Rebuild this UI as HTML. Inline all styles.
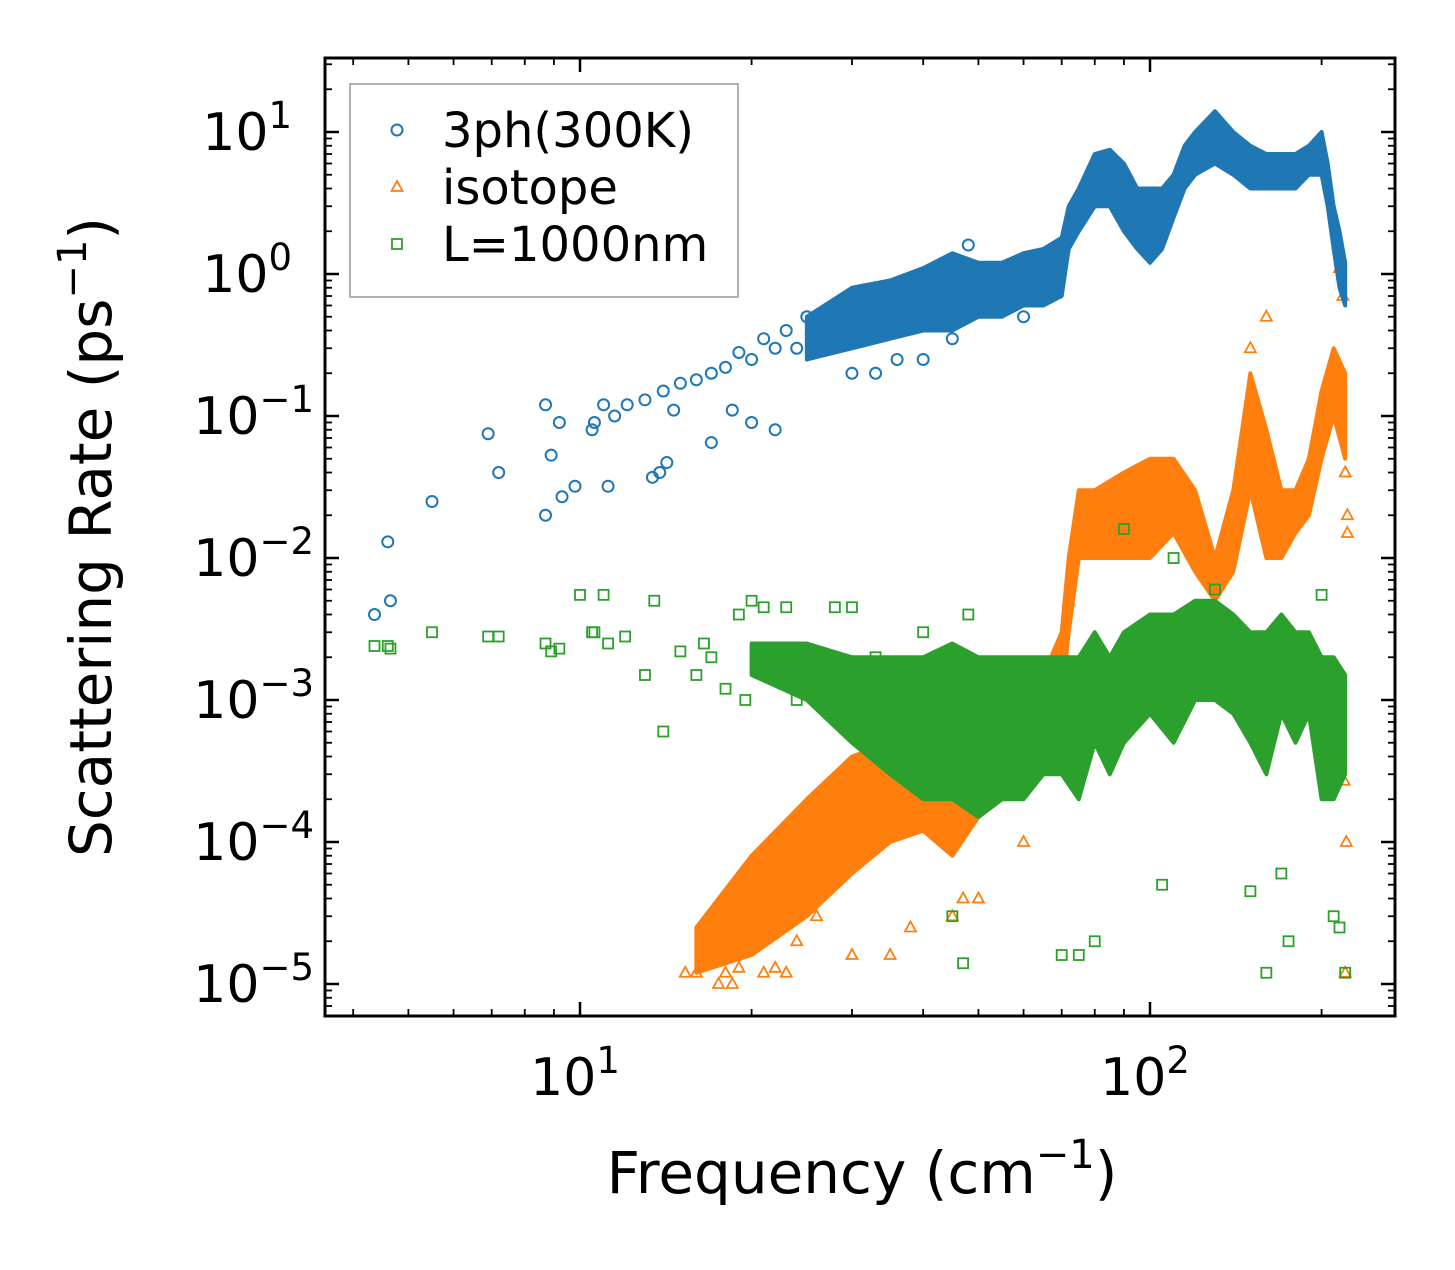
<!DOCTYPE html>
<html><head><meta charset="utf-8"><style>
body{margin:0;background:#fff}
svg text{font-family:"DejaVu Sans","Liberation Sans",sans-serif;fill:#000}
</style></head><body>
<svg id="chart" width="1455" height="1265" xmlns="http://www.w3.org/2000/svg">
<rect width="1455" height="1265" fill="#fff"/>
<g id="bands"></g><g id="marks"></g><g id="axes"></g>
</svg>
<script>
// ---- data ----
const xTickVals=[10,100];
const yTickExps=[1,0,-1,-2,-3,-4,-5];
const blueFreq=[4.36,4.6,4.65,5.5,6.9,7.2,8.7,8.7,8.9,9.2,9.3,9.8,10.5,10.6,11,11.2,11.5,12.1,13,13.4,13.8,14.2,14,14.6,15,16,17,17,18,18.5,19,20,20,21,22,22,23,24,25,26,27,28,30,30,33,36,40,45,48,55,60];
const blueRate=[0.004,0.013,0.005,0.025,0.075,0.04,0.12,0.02,0.053,0.09,0.027,0.032,0.08,0.09,0.12,0.032,0.1,0.12,0.13,0.037,0.04,0.047,0.15,0.11,0.17,0.18,0.065,0.2,0.22,0.11,0.28,0.25,0.09,0.35,0.3,0.08,0.4,0.3,0.5,0.35,0.5,0.6,0.55,0.2,0.2,0.25,0.25,0.35,1.6,0.6,0.5];
const blueBandF=[25,30,35,40,45,50,55,60,65,70,72,75,80,85,90,95,100,105,110,115,120,130,140,150,160,170,180,190,200,205,210,215,220];
const blueLo=[0.25,0.3,0.35,0.4,0.4,0.5,0.5,0.6,0.6,0.7,1.5,2,3,3,2,1.5,1.2,1.5,2.5,4,5,6,5,4,4,4,4,5,5,3,1.5,0.8,0.6];
const blueHi=[0.5,0.8,0.9,1.1,1.4,1.2,1.2,1.4,1.5,1.8,3,4,7,7.5,6,4,4,4,5,8,10,14,10,8,7,7,7,8,10,6,3,2,1.2];
const orFreq=[15.3,16,16.5,17.5,18,18.5,19,20,21,22,23,24,26,30,35,38,45,47,50,60,70,72,150,160,200,215,218,220,222,222,221,219,220];
const orRate=[1.2e-5,1.2e-5,1.6e-5,1e-5,1.2e-5,1e-5,1.3e-5,2e-5,1.2e-5,1.3e-5,1.2e-5,2e-5,3e-5,1.6e-5,1.6e-5,2.5e-5,3e-5,4e-5,4e-5,1e-4,1e-3,5e-3,3e-1,5e-1,1e-1,1.1,0.7,4e-2,2e-2,1.5e-2,1e-4,2.7e-4,1.2e-5];
const orBandF=[16,20,25,30,35,40,45,50,55,60,65,70,72,75,80,90,100,110,120,130,140,150,160,170,180,190,200,210,220];
const orLo=[1.2e-5,1.6e-5,3e-5,6e-5,1e-4,1.2e-4,8e-5,1.5e-4,2e-4,3e-4,5e-4,1e-3,3e-3,1e-2,1e-2,1e-2,1e-2,1.5e-2,8e-3,5e-3,8e-3,3e-2,1e-2,1e-2,1.5e-2,2e-2,5e-2,1e-1,5e-2];
const orHi=[2.5e-5,8e-5,2e-4,4e-4,5e-4,6e-4,1e-3,2e-3,1e-3,1.5e-3,1.5e-3,3e-3,1e-2,3e-2,3e-2,4e-2,5e-2,5e-2,3e-2,1e-2,3e-2,2e-1,8e-2,3e-2,3e-2,5e-2,1.5e-1,3e-1,2e-1];
const grFreq=[4.36,4.65,4.6,5.5,6.9,7.2,8.7,8.9,9.2,10,10.5,10.6,11,11.2,12,13,13.5,14,15,16,16.5,17,18,19,19.5,20,21,22,23,24,25,27,28,30,33,36,40,45,47,48,60,70,75,80,90,105,110,120,130,150,160,170,175,200,210,215,220];
const grRate=[2.4e-3,2.3e-3,2.4e-3,3e-3,2.8e-3,2.8e-3,2.5e-3,2.2e-3,2.3e-3,5.5e-3,3e-3,3e-3,5.5e-3,2.5e-3,2.8e-3,1.5e-3,5e-3,6e-4,2.2e-3,1.5e-3,2.5e-3,2e-3,1.2e-3,4e-3,1e-3,5e-3,4.5e-3,1.5e-3,4.5e-3,1e-3,1.5e-3,1.8e-3,4.5e-3,4.5e-3,2e-3,4e-4,3e-3,3e-5,1.4e-5,4e-3,3e-4,1.6e-5,1.6e-5,2e-5,1.6e-2,5e-5,1e-2,4e-3,6e-3,4.5e-5,1.2e-5,6e-5,2e-5,5.5e-3,3e-5,2.5e-5,1.2e-5];
const grBandF=[20,25,30,35,40,45,50,55,60,65,70,75,80,85,90,100,110,120,130,140,150,160,170,180,190,200,210,220];
const grLo=[1.5e-3,1e-3,5e-4,3e-4,2e-4,2e-4,1.5e-4,2e-4,2e-4,3e-4,3e-4,2e-4,5e-4,3e-4,5e-4,8e-4,5e-4,1e-3,1e-3,8e-4,5e-4,3e-4,8e-4,5e-4,8e-4,2e-4,2e-4,3e-4];
const grHi=[2.5e-3,2.5e-3,2e-3,2e-3,2e-3,2.5e-3,2e-3,2e-3,2e-3,2e-3,2e-3,2e-3,3e-3,2e-3,3e-3,4e-3,4e-3,5e-3,5e-3,4e-3,3e-3,3e-3,4e-3,3e-3,3e-3,2e-3,2e-3,1.5e-3];

const L=325,R=1395,T=58,B=1016;
const X=f=>580+570*Math.log10(f/10);
const Y=v=>132-142*(Math.log10(v)-1);
const NS='http://www.w3.org/2000/svg';
function mk(tag,attrs,parent){const e=document.createElementNS(NS,tag);for(const k in attrs)e.setAttribute(k,attrs[k]);parent.appendChild(e);return e;}
const bands=document.getElementById('bands'),marks=document.getElementById('marks'),axes=document.getElementById('axes');
const C={b:'#1f77b4',o:'#ff7f0e',g:'#2ca02c'};
function band(fs,lo,hi,col,name,parent){
  let pts=fs.map((f,i)=>X(f)+','+Y(hi[i]));
  for(let i=fs.length-1;i>=0;i--)pts.push(X(fs[i])+','+Y(lo[i]));
  const p=mk('polygon',{points:pts.join(' '),fill:col,stroke:col,'stroke-width':4,'stroke-linejoin':'round'},parent);
  
  
}
function marker(kind,x,y,col,parent){
  let e;
  if(kind==='b')e=mk('circle',{cx:x,cy:y,r:5.5,fill:'none',stroke:col,'stroke-width':2},parent);
  else if(kind==='o')e=mk('polygon',{points:`${x},${y-6} ${x-5.5},${y+4} ${x+5.5},${y+4}`,fill:'none',stroke:col,'stroke-width':1.8},parent);
  else e=mk('rect',{x:x-5,y:y-5,width:10,height:10,fill:'none',stroke:col,'stroke-width':1.8},parent);
  return e;
}
band(orBandF,orLo,orHi,C.o,'isotope-dense-band',bands);
orFreq.forEach((f,i)=>{const m=marker('o',X(f),Y(orRate[i]),C.o,bands);

});
band(grBandF,grLo,grHi,C.g,'boundary-dense-band',bands);
grFreq.forEach((f,i)=>{const m=marker('g',X(f),Y(grRate[i]),C.g,bands);

});
band(blueBandF,blueLo,blueHi,C.b,'3ph-dense-band',marks);
blueFreq.forEach((f,i)=>{const m=marker('b',X(f),Y(blueRate[i]),C.b,marks);

});

const fr=mk('rect',{x:L,y:T,width:R-L,height:B-T,fill:'none',stroke:'#000','stroke-width':3},axes);


for(let d=0;d<3;d++)for(let k=1;k<10;k++){const f=k*Math.pow(10,d);const x=X(f);if(x<L||x>R)continue;
 const len=k===1?14:7;
 mk('line',{x1:x,y1:B,x2:x,y2:B-len,stroke:'#000','stroke-width':k===1?2.5:1.8},axes);
 mk('line',{x1:x,y1:T,x2:x,y2:T+len,stroke:'#000','stroke-width':k===1?2.5:1.8},axes);}
for(let e=-6;e<=1;e++)for(let k=1;k<10;k++){const y=Y(k*Math.pow(10,e));if(y<T||y>B)continue;
 const len=k===1?14:7;
 mk('line',{x1:L,y1:y,x2:L+len,y2:y,stroke:'#000','stroke-width':k===1?2.5:1.8},axes);
 mk('line',{x1:R,y1:y,x2:R-len,y2:y,stroke:'#000','stroke-width':k===1?2.5:1.8},axes);}
xTickVals.forEach(v=>{const t=mk('text',{x:X(v)-5,y:1095,'font-size':52,'text-anchor':'middle'},axes);
 t.innerHTML='10<tspan dy="-22" font-size="37">'+Math.log10(v)+'</tspan>';
 
 });
yTickExps.forEach(e=>{const t=mk('text',{x:e<0?314:292,y:Y(Math.pow(10,e))+18,'font-size':52,'text-anchor':'end'},axes);
 t.innerHTML='10<tspan dy="-22" font-size="37">'+(e<0?'\u2212'+(-e):e)+'</tspan>';
 
 });
</script>
<svg style="position:absolute;left:0;top:0" width="1455" height="1265" xmlns="http://www.w3.org/2000/svg">
<text x="862" y="1193" font-size="58" text-anchor="middle" font-family="DejaVu Sans, Liberation Sans, sans-serif">Frequency (cm<tspan dy="-25" font-size="40">−1</tspan><tspan dy="25">)</tspan></text>
<text transform="translate(111,537) rotate(-90)" font-size="58" text-anchor="middle" font-family="DejaVu Sans, Liberation Sans, sans-serif">Scattering Rate (ps<tspan dy="-25" font-size="40">−1</tspan><tspan dy="25">)</tspan></text>
<g>
<rect x="350" y="84" width="388" height="213" fill="#fff" fill-opacity="0.85" stroke="#999" stroke-width="1.5"/>
<circle cx="397" cy="130" r="5.5" fill="none" stroke="#1f77b4" stroke-width="2"/>
<text x="442" y="147" font-size="48" font-family="DejaVu Sans, Liberation Sans, sans-serif">3ph(300K)</text>
<polygon points="397,181 391.5,191 402.5,191" fill="none" stroke="#ff7f0e" stroke-width="1.8"/>
<text x="442" y="204" font-size="48" font-family="DejaVu Sans, Liberation Sans, sans-serif">isotope</text>
<rect x="392" y="239" width="10" height="10" fill="none" stroke="#2ca02c" stroke-width="1.8"/>
<text x="442" y="261" font-size="48" font-family="DejaVu Sans, Liberation Sans, sans-serif">L=1000nm</text>
</g>
</svg>
</body></html>
